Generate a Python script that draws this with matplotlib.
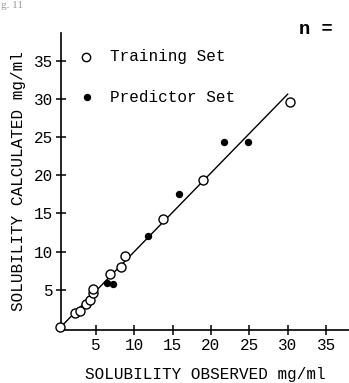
import matplotlib
matplotlib.use("Agg")
import matplotlib.pyplot as plt

# Data
train_x = [0.4, 2.3, 3.0, 3.7, 4.2, 4.6, 4.6, 6.8, 8.3, 8.8, 13.7, 19.0, 30.3]
train_y = [0.1, 2.0, 2.3, 3.2, 3.7, 4.6, 5.1, 7.1, 8.0, 9.4, 14.3, 19.4, 29.6]
pred_x = [6.5, 7.2, 11.8, 15.8, 21.7, 24.8]
pred_y = [5.9, 5.8, 12.1, 17.6, 24.4, 24.4]
fit_x = [0.5, 30.0]
fit_y = [0.2, 30.6]
ticks = [5, 10, 15, 20, 25, 30, 35]

FONT = "Liberation Mono"

fig = plt.figure(figsize=(3.49, 3.83), dpi=100)
ax = fig.add_axes([61/349, 53/383, 288/349, 297/383])

ax.plot(fit_x, fit_y, color="black", lw=1.0, zorder=2)
ax.plot(train_x, train_y, "o", mfc="white", mec="black", mew=1.0, ms=6.5, zorder=3,
        clip_on=False)
ax.plot(pred_x, pred_y, "o", mfc="black", mec="black", ms=4.3, zorder=4)

ax.set_xlim(0.48, 37.98)
ax.set_ylim(-0.24, 38.6)
ax.spines["top"].set_visible(False)
ax.spines["right"].set_visible(False)
for s in ("left", "bottom"):
    ax.spines[s].set_linewidth(1.2)
ax.set_xticks(ticks)
ax.set_yticks(ticks)
ax.tick_params(direction="inout", length=7, width=1.1, labelsize=11.5, pad=2)
for lab in ax.get_xticklabels() + ax.get_yticklabels():
    lab.set_fontfamily(FONT)

ax.set_xlabel("SOLUBILITY OBSERVED mg/ml", fontsize=11.5, family=FONT, labelpad=10)
ax.set_ylabel("SOLUBILITY CALCULATED mg/ml", fontsize=11.5, family=FONT, labelpad=6)

def fx(px):
    return px / 349
def fy(py):
    return 1 - py / 383

fig.lines.append(plt.Line2D([fx(86)], [fy(57)], marker="o", mfc="white", mec="black",
                            mew=1.0, ms=6.0, ls="none", transform=fig.transFigure))
fig.lines.append(plt.Line2D([fx(87)], [fy(97)], marker="o", mfc="black", mec="black",
                            ms=4.3, ls="none", transform=fig.transFigure))
fig.text(fx(110), fy(57), "Training Set", family=FONT, fontsize=11.5, va="center", ha="left")
fig.text(fx(110), fy(97), "Predictor Set", family=FONT, fontsize=11.5, va="center", ha="left")
fig.text(fx(299), fy(29), "n =", family=FONT, fontsize=13.5, fontweight="bold",
         va="center", ha="left")
fig.text(fx(1), fy(1), "g. 11", family="Liberation Serif", fontsize=8, color="#999999",
         va="top", ha="left")

fig.savefig("out.png", dpi=100)
